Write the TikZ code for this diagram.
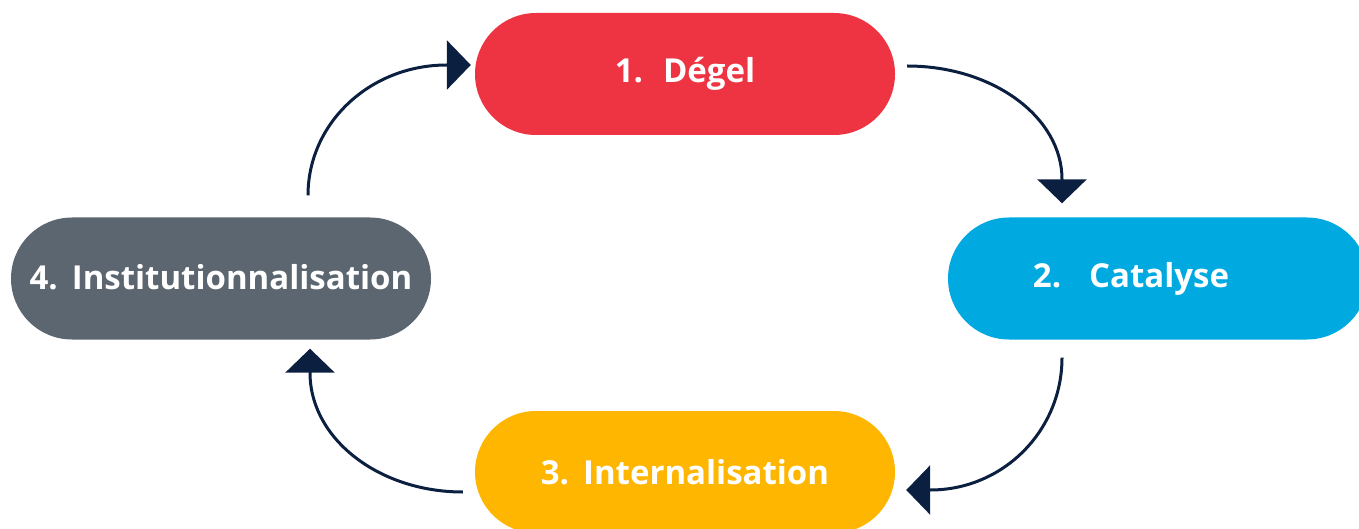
\documentclass[tikz,border=0pt]{standalone}
\usepackage{fontspec}
\setmainfont{Open Sans}
\usetikzlibrary{shapes.misc,arrows.meta}
\definecolor{pred}{HTML}{EE3342}
\definecolor{pblue}{HTML}{00A9DF}
\definecolor{pyellow}{HTML}{FFB600}
\definecolor{pgray}{HTML}{5B6670}
\definecolor{navy}{HTML}{0B1F40}
\tikzset{
  pill/.style={rounded rectangle, minimum width=420pt, minimum height=122pt, inner sep=0pt,
    text=white, font=\fontsize{33}{38}\selectfont\bfseries},
  cyc/.style={draw=navy, line width=3pt, -{Triangle[length=24pt,width=49pt]}, fill=none}
}
\begin{document}
\begin{tikzpicture}[x=1pt,y=-1pt]
\useasboundingbox (0,0) rectangle (1359,529);
\node[pill, fill=pred] (deg) at (685,74) {1.\hspace{20pt}Dégel};
\node[pill, fill=pblue] (cat) at (1158,278.5) {2.\hspace{28pt}Catalyse\hspace*{54pt}};
\node[pill, fill=pyellow] (int) at (685,472) {3.\hspace{14pt}Internalisation};
\node[pill, fill=pgray] (inst) at (221,278.5) {\raisebox{4pt}{4.\hspace{14pt}Institutionnalisation}};
% connector end points
\coordinate (a1s) at ([xshift=87pt,yshift=22pt]inst.north);
\coordinate (a1e) at ([xshift=-4pt,yshift=9pt]deg.west);
\coordinate (a2s) at ([xshift=12pt,yshift=8pt]deg.east);
\coordinate (a2e) at ([xshift=-96pt,yshift=14pt]cat.north);
\coordinate (a3s) at ([xshift=-96pt,yshift=-18pt]cat.south);
\coordinate (a3e) at ([xshift=11pt,yshift=-18pt]int.east);
\coordinate (a4s) at ([xshift=-12pt,yshift=-20pt]int.west);
\coordinate (a4e) at ([xshift=89pt,yshift=-9pt]inst.south);
\draw[cyc] (a1s) .. controls +(0,-72) and +(-77,0) .. ([xshift=-24pt]a1e) -- (a1e);
\draw[cyc] (a2s) .. controls +(86,0) and +(0,-62) .. ([yshift=24pt]a2e) -- (a2e);
\draw[cyc] (a3s) .. controls +(0,73) and +(73,0) .. ([xshift=24pt]a3e) -- (a3e);
\draw[cyc] (a4s) .. controls +(-84,0) and +(0,66) .. ([yshift=-24pt]a4e) -- (a4e);
\end{tikzpicture}
\end{document}
